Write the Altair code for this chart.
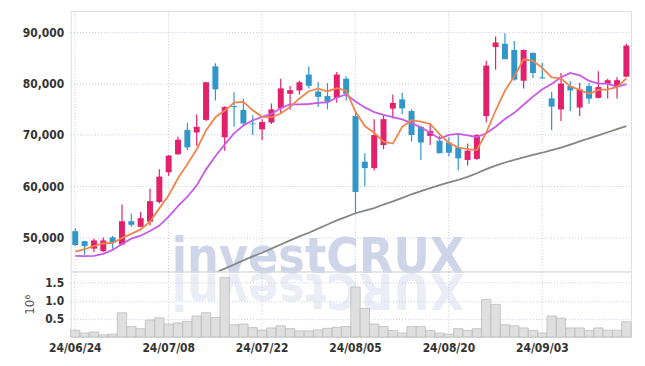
import altair as alt
import pandas as pd

# ---------------- data ----------------
dates = ["24/06/24", "24/06/25", "24/06/26", "24/06/27", "24/06/28",
         "24/07/01", "24/07/02", "24/07/03", "24/07/04", "24/07/05",
         "24/07/08", "24/07/09", "24/07/10", "24/07/11", "24/07/12",
         "24/07/15", "24/07/16", "24/07/17", "24/07/18", "24/07/19",
         "24/07/22", "24/07/23", "24/07/24", "24/07/25", "24/07/26",
         "24/07/29", "24/07/30", "24/07/31", "24/08/01", "24/08/02",
         "24/08/05", "24/08/06", "24/08/07", "24/08/08", "24/08/09",
         "24/08/12", "24/08/13", "24/08/14", "24/08/16", "24/08/19",
         "24/08/20", "24/08/21", "24/08/22", "24/08/23", "24/08/26",
         "24/08/27", "24/08/28", "24/08/29", "24/08/30", "24/09/02",
         "24/09/03", "24/09/04", "24/09/05", "24/09/06", "24/09/09",
         "24/09/10", "24/09/11", "24/09/12", "24/09/13", "24/09/19"]

opens = [51200, 49250, 47800, 47300, 50000, 48600, 53150, 52050, 53050, 56900,
         62700, 66200, 70950, 70450, 72900, 83350, 69500, 75600, 74850, 72200,
         71050, 72400, 75150, 78000, 78650, 81750, 78450, 77550, 77200, 80950,
         73650, 64750, 63500, 68000, 75100, 76900, 74650, 71550, 69800, 68850,
         68500, 67550, 65100, 65300, 73650, 87100, 87750, 86550, 80550, 85950,
         81200, 77100, 74950, 79500, 75300, 79500, 77200, 79950, 79350, 81350]
highs = [51750, 49350, 49750, 49950, 50250, 56400, 54650, 54950, 59500, 63300,
         66050, 69600, 72300, 74000, 80300, 83950, 75550, 78300, 77050, 73800,
         73050, 76100, 80950, 79500, 80550, 83300, 80300, 80100, 82250, 81400,
         74600, 66400, 73050, 73850, 77850, 78200, 74950, 71750, 72250, 69800,
         69500, 70250, 68300, 70150, 84450, 89150, 89800, 88300, 86650, 86100,
         84000, 78400, 82050, 80450, 80100, 80100, 82400, 80950, 81200, 87750]
lows = [48300, 46600, 47150, 47150, 47800, 48450, 52050, 51950, 52300, 56600,
        62000, 66100, 67050, 67850, 72650, 76700, 66900, 71550, 71950, 69950,
        68950, 72100, 74300, 74950, 77850, 79050, 75400, 74950, 76250, 76700,
        54700, 59950, 63050, 67200, 73200, 74000, 68650, 65100, 68000, 66400,
        65750, 63050, 64000, 65150, 72400, 82700, 84750, 80550, 79050, 81100,
        80950, 70900, 72700, 74650, 73650, 76050, 77100, 77100, 77100, 81200]
closes = [48500, 48300, 49400, 49400, 48950, 53150, 52450, 53750, 57050, 61850,
          65950, 69050, 67550, 71550, 80250, 78850, 75400, 75400, 72200, 72050,
          72500, 74950, 79050, 78700, 80250, 79550, 77400, 76450, 81750, 78000,
          58850, 63500, 69950, 73050, 76200, 75150, 69950, 68500, 70750, 66400,
          66500, 65400, 66900, 69950, 83500, 88000, 84750, 80750, 86550, 82050,
          81000, 75500, 80000, 78650, 78850, 77050, 79300, 80650, 80650, 87400]

ma_short = [47230, 47680, 48320, 48800, 48930, 49860, 50680, 51550, 53070, 55650,
            58210, 61520, 64280, 67180, 70860, 73440, 74720, 76290, 76420, 74780,
            73520, 73430, 74150, 75450, 77090, 78500, 78990, 78470, 79080, 78630,
            74490, 71700, 70400, 68660, 68290, 71560, 72850, 72560, 72110, 70150,
            68420, 67520, 67200, 67030, 70450, 74740, 78610, 81390, 84720, 84430,
            83040, 81180, 81030, 79440, 78790, 77990, 78760, 78880, 79280, 81000]
ma_mid = [46390, 46330, 46390, 46780, 47550, 48710, 49740, 50320, 51230, 52290,
          54030, 56100, 57920, 60130, 63260, 65820, 68120, 70290, 71800, 72820,
          73480, 74070, 75220, 75940, 75940, 76010, 76210, 76310, 77270, 77860,
          76490, 75340, 74430, 73870, 73460, 73020, 72270, 71480, 70380, 69220,
          69990, 70180, 69880, 69570, 70300, 71580, 73070, 74290, 75870, 77440,
          78890, 79900, 81210, 82080, 81610, 80520, 79970, 79960, 79360, 79900]
# long moving average, visible from index 14 onward
ma_long_start = 14
ma_long = [42400, 43100, 43900, 44700, 45500, 46300, 47000, 47800, 48600, 49400,
           50200, 50900, 51700, 52500, 53300, 54000, 54700, 55200, 55700, 56400,
           57000, 57700, 58400, 59000, 59600, 60200, 60700, 61200, 61800, 62500,
           63300, 64000, 64600, 65100, 65600, 66100, 66500, 67000, 67500, 68100,
           68700, 69300, 69900, 70500, 71100, 71700]

volume_m = [0.19, 0.11, 0.14, 0.06, 0.08, 0.67, 0.29, 0.23, 0.47, 0.53,
            0.36, 0.39, 0.43, 0.58, 0.67, 0.54, 1.64, 0.34, 0.36, 0.26,
            0.19, 0.25, 0.31, 0.23, 0.17, 0.17, 0.20, 0.24, 0.27, 0.29,
            1.38, 0.79, 0.36, 0.29, 0.18, 0.11, 0.29, 0.29, 0.18, 0.11,
            0.08, 0.23, 0.18, 0.23, 1.04, 0.90, 0.34, 0.31, 0.25, 0.18,
            0.11, 0.58, 0.52, 0.25, 0.25, 0.18, 0.25, 0.19, 0.19, 0.42]

date_ticks = ["24/06/24", "24/07/08", "24/07/22", "24/08/05", "24/08/20", "24/09/03"]
price_ticks = [50000, 60000, 70000, 80000, 90000]
volume_ticks = [0.5, 1.0, 1.5]
watermark = "investCRUX"

# ---------------- styling ----------------
UP = "#e3206b"
DOWN = "#3197c9"
C_SHORT = "#f0844c"
C_MID = "#c95ae8"
C_LONG = "#858585"
GRID = "#c3c8dc"
FONT = "DejaVu Sans Condensed, Liberation Sans Narrow, DejaVu Sans, sans-serif"
W = 564
H_PRICE = 262
H_VOL = 66

df = pd.DataFrame({"date": dates, "open": opens, "high": highs,
                   "low": lows, "close": closes,
                   "ma_short": ma_short, "ma_mid": ma_mid,
                   "volume": volume_m})
df["dir"] = ["up" if c >= o else "down" for o, c in zip(opens, closes)]
df_long = pd.DataFrame({"date": dates[ma_long_start:], "ma_long": ma_long})

xscale = alt.Scale(type="band", domain=dates, paddingInner=0, paddingOuter=0)
color = alt.Color("dir:N", scale=alt.Scale(domain=["up", "down"], range=[UP, DOWN]),
                  legend=None)

x_price = alt.X("date:O", scale=xscale,
                axis=alt.Axis(values=date_ticks, labels=False, ticks=False, domain=False,
                              grid=True, gridColor=GRID, gridDash=[1, 2],
                              bandPosition=0.5, title=None))
yscale = alt.Scale(domain=[43350, 94125], nice=False, zero=False)
y_axis = alt.Axis(values=price_ticks, format=",d", labelFont=FONT, labelFontWeight="bold",
                  labelFontSize=12, labelColor="#333333", ticks=False, domain=False,
                  labelPadding=7, grid=True, gridColor=GRID, gridDash=[1, 2], title=None)

base = alt.Chart(df)

wm = alt.Chart(pd.DataFrame({"t": [watermark]})).mark_text(
    font=FONT, fontWeight="bold", fontSize=50, color="#c6cee6", opacity=0.85,
    align="center", baseline="alphabetic"
).encode(text="t:N", x=alt.value(249), y=alt.value(264))

wick = base.mark_rule(strokeWidth=1.2).encode(
    x=x_price,
    y=alt.Y("low:Q", scale=yscale, axis=y_axis),
    y2="high:Q",
    color=color)
body = base.mark_bar(width=6).encode(
    x=x_price, y=alt.Y("open:Q", scale=yscale), y2="close:Q", color=color)

line_long = alt.Chart(df_long).mark_line(color=C_LONG, strokeWidth=1.8, clip=True).encode(
    x=x_price, y=alt.Y("ma_long:Q", scale=yscale))
line_mid = base.mark_line(color=C_MID, strokeWidth=1.8, clip=True).encode(
    x=x_price, y=alt.Y("ma_mid:Q", scale=yscale))
line_short = base.mark_line(color=C_SHORT, strokeWidth=1.8, clip=True).encode(
    x=x_price, y=alt.Y("ma_short:Q", scale=yscale))

price = alt.layer(wm, wick, body, line_long, line_mid, line_short).properties(
    width=W, height=H_PRICE)

# ---------------- volume panel ----------------
x_vol = alt.X("date:O", scale=xscale,
              axis=alt.Axis(values=date_ticks, labelFont=FONT, labelFontWeight="bold",
                            labelFontSize=12, labelColor="#333333", labelAngle=0,
                            ticks=False, domain=False, labelPadding=6,
                            grid=True, gridColor=GRID, gridDash=[1, 2],
                            bandPosition=0.5, title=None))
reflection = alt.Chart(pd.DataFrame({"t": [watermark[::-1]]})).mark_text(
    font=FONT, fontWeight="bold", fontSize=50, color="#c6cee6", opacity=0.35,
    align="center", baseline="alphabetic", angle=180
).encode(text="t:N", x=alt.value(249), y=alt.value(3))

vol_bars = base.mark_bar(fill="#d9d9d9", fillOpacity=0.85, stroke="#bcbcbc",
                         strokeWidth=0.8).encode(
    x=x_vol,
    y=alt.Y("volume:Q", scale=alt.Scale(domain=[0, 1.81], nice=False),
            axis=alt.Axis(values=volume_ticks, format=".1f", labelFont=FONT,
                          labelFontWeight="bold", labelFontSize=12, labelColor="#333333",
                          ticks=False, domain=False, labelPadding=7,
                          grid=True, gridColor=GRID, gridDash=[1, 2],
                          title="10⁶", titleFont="DejaVu Sans", titleFontWeight="normal",
                          titleFontSize=12, titleColor="#555555", titlePadding=8)))

volume = alt.layer(reflection, vol_bars).properties(width=W, height=H_VOL)

chart = alt.vconcat(price, volume, spacing=0, bounds="flush").properties(
    padding={"left": 13, "top": 1, "right": 5, "bottom": 4}
).configure_view(stroke="#cccccc", strokeWidth=1).configure(background="white")

chart.save("out.html", embed_options={"renderer": "svg", "actions": False})
